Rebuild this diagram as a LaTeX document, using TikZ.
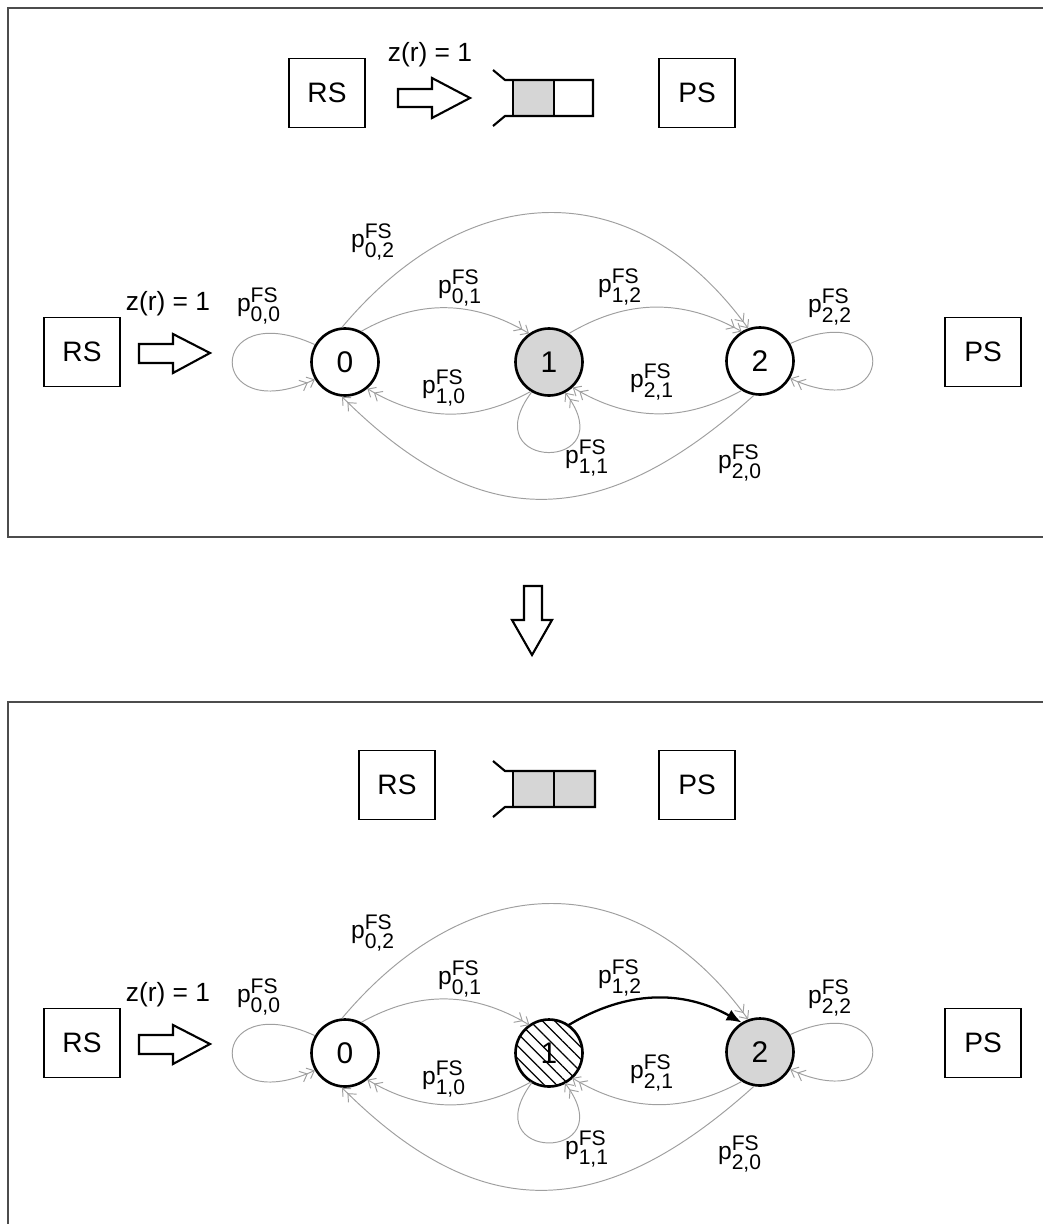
\documentclass[tikz,border=0pt]{standalone}
\usepackage{amsmath}
\usepackage{fontspec}
\setmainfont{Liberation Sans}
\usetikzlibrary{arrows.meta,patterns.meta}
\DeclareMathSizes{14}{14}{12}{10}
\newcommand{\ptr}[1]{$\text{p}^{\text{FS}}_{\text{#1}}$}

\begin{document}
\begin{tikzpicture}[x=0.02cm,y=0.02cm,
    box/.style={draw,line width=1.1pt,minimum width=1.52cm,minimum height=1.38cm,font=\fontsize{16}{19}\selectfont},
    state/.style={circle,draw,line width=1.5pt,minimum size=1.34cm,inner sep=0pt,font=\fontsize{17}{20}\selectfont},
    trans/.style={gray!75,line width=0.55pt,-{Straight Barb[length=1.3mm,width=2.3mm]Straight Barb[length=1.3mm,width=2.3mm]}},
    hot/.style={black,line width=1.3pt,-{Latex[length=3mm,width=2.4mm]}},
    lbl/.style={inner sep=0pt,font=\fontsize{14}{16}\selectfont},
    txt/.style={inner sep=0pt,font=\fontsize{15}{18}\selectfont},
    blockarrow/.style={draw,line width=1.2pt,fill=white},
    queue/.style={line width=1.2pt},
    frame/.style={gray!60!black,line width=0.6pt},
    plain/.style={},
    shaded/.style={fill=gray!32},
    hatched/.style={pattern={Lines[angle=-45,distance=5pt,line width=0.7pt]}}]
  \useasboundingbox (0,0) rectangle (1043,-1224);
  % panel frames
  \draw[frame] (1043,-8) -- (8,-8) -- (8,-537) -- (1043,-537);
  \draw[frame] (1043,-702) -- (8,-702) -- (8,-1224);

  % top panel, upper row
  \node[box] (rsA) at (327,-93) {RS};
  \node[box] (psA) at (697,-93) {PS};
  \node[txt] (zA) at (430,-55) {z(r) = 1};
  \draw[blockarrow] (398,-89) -- (432,-89) -- (432,-78) -- (470,-98) -- (432,-118) -- (432,-107) -- (398,-107) -- cycle;
  \fill[gray!32] (513,-80) rectangle (554,-116);
  \draw[queue] (493,-70) -- (505,-80) -- (593,-80) -- (593,-116) -- (505,-116) -- (493,-126);
  \draw[queue] (513,-80) -- (513,-116) (554,-80) -- (554,-116);

  % step between the panels
  \draw[blockarrow] (524,-586) -- (542,-586) -- (542,-620) -- (552,-620) -- (532,-655) -- (512,-620) -- (524,-620) -- cycle;

  % bottom panel, upper row
  \node[box] (rsB) at (397,-785) {RS};
  \node[box] (psB) at (697,-785) {PS};
  \fill[gray!32] (513,-771) rectangle (595,-807);
  \draw[queue] (493,-761) -- (505,-771) -- (595,-771) -- (595,-807) -- (505,-807) -- (493,-817);
  \draw[queue] (513,-771) -- (513,-807) (554,-771) -- (554,-807);

  % chains
  \foreach \p/\dy/\sa/\sb/\e in {t/0/shaded/plain/trans, b/691/hatched/shaded/hot} {
    \begin{scope}[yshift=-\dy*0.02cm]
      \node[box] (rs\p) at (82,-352) {RS};
      \node[box] (ps\p) at (983,-352) {PS};
      \node[txt] (z\p) at (168,-304) {z(r) = 1};
      \draw[blockarrow] (139,-344) -- (173,-344) -- (173,-334) -- (210,-353) -- (173,-373) -- (173,-363) -- (139,-363) -- cycle;

      \node[state] (n0\p) at (345,-362) {0};
      \node[state,\sa] (n1\p) at (549,-362) {1};
      \node[state,\sb] (n2\p) at (760,-361) {2};

      \draw[trans] (n0\p.62) to[bend left=30] (n1\p.125);
      \draw[\e] (n1\p.55) to[bend left=30] (n2\p.122);
      \draw[trans] (n1\p.-122) to[bend left=30] (n0\p.-50);
      \draw[trans] (n2\p.-122) to[bend left=30] (n1\p.-47);
      \draw[trans] (n0\p.95) .. controls +(50:195) and +(126:195) .. (n2\p.110);
      \draw[trans] (n2\p.-100) .. controls +(-138:200) and +(-45:200) .. (n0\p.-95);
      \draw[trans] (n0\p.150) .. controls +(-110,50) and +(-110,-50) .. (n0\p.210);
      \draw[trans] (n2\p.30) .. controls +(110,50) and +(110,-50) .. (n2\p.-30);
      \draw[trans] (n1\p.-120) .. controls +(-60,-80) and +(60,-80) .. (n1\p.-62);

      \node[lbl] (l02\p) at (373,-242) {\ptr{0,2}};
      \node[lbl] (l01\p) at (460,-288) {\ptr{0,1}};
      \node[lbl] (l12\p) at (620,-287) {\ptr{1,2}};
      \node[lbl] (l00\p) at (259,-306) {\ptr{0,0}};
      \node[lbl] (l22\p) at (830,-307) {\ptr{2,2}};
      \node[lbl] (l10\p) at (444,-388) {\ptr{1,0}};
      \node[lbl] (l21\p) at (652,-382) {\ptr{2,1}};
      \node[lbl] (l11\p) at (587,-458) {\ptr{1,1}};
      \node[lbl] (l20\p) at (740,-463) {\ptr{2,0}};
    \end{scope}
  }
\end{tikzpicture}
\end{document}
